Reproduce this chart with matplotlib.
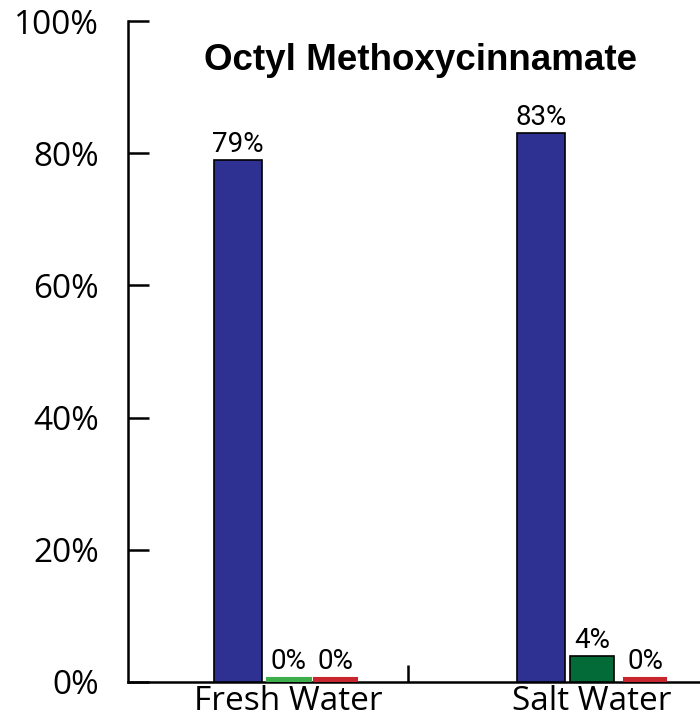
import numpy as np
import matplotlib.pyplot as plt

# data
categories = ["Fresh Water", "Salt Water"]
series_a = [79, 83]   # blue
series_b = [0, 4]     # green
series_c = [0, 0]     # red
labels_a = ["79%", "83%"]
labels_b = ["0%", "4%"]
labels_c = ["0%", "0%"]
yticks = [0, 20, 40, 60, 80, 100]

fig = plt.figure(figsize=(7, 7.18), dpi=100)
ax = fig.add_axes([128 / 700, 1 - 682 / 718, 1 - 128 / 700, (682 - 21) / 718])

x = np.arange(len(categories))


def draw(xpos, vals, labels, colors, edges, w):
    for xi, v, lab, c, e in zip(xpos, vals, labels, colors, edges):
        if v == 0:
            # zero bars still show as a thin coloured strip
            ax.bar(xi, 0.45, w, bottom=0.1, color=c, edgecolor=c, linewidth=1.5, zorder=3)
            top = 0.8
        else:
            ax.bar(xi, v, w, color=c, edgecolor=e, linewidth=1.2, zorder=3)
            top = v
        ax.text(xi, top + 0.3, lab, ha="center", va="bottom", fontsize=20,
                family="Roboto", zorder=4)


draw(x - 0.168, series_a, labels_a, ["#2E3192", "#2E3192"], ["black", "black"], 0.158)
draw(x + np.array([0.0, 0.0]), series_b, labels_b, ["#3DAE49", "#036B37"], ["#3DAE49", "black"], 0.145)
draw(x + np.array([0.155, 0.175]), series_c, labels_c, ["#C8262E", "#C8262E"], ["#C8262E", "#C8262E"], 0.14)

ax.set_xlim(-0.529, 1.356)
ax.set_ylim(0, 100)

ax.spines["top"].set_visible(False)
ax.spines["right"].set_visible(False)
ax.spines["left"].set_linewidth(1.8)
ax.spines["bottom"].set_linewidth(1.8)

ax.set_yticks(yticks)
ax.set_yticklabels([f"{t}%" for t in yticks], fontsize=24, family="Open Sans")
ax.tick_params(axis="y", direction="in", length=15, width=1.8, pad=21)

# category labels without ticks, one separator tick between groups
ax.set_xticks(x)
ax.set_xticklabels(categories, fontsize=24, family="Open Sans")
ax.tick_params(axis="x", length=0, pad=2)
ax.set_xticks([0.394], minor=True)
ax.tick_params(axis="x", which="minor", direction="in", length=12, width=1.8)

fig.text(0.6, 1 - 61 / 718, "Octyl Methoxycinnamate", ha="center", va="center",
         fontsize=26.5, fontweight="bold", family="Liberation Sans")

fig.savefig("out.png", dpi=100)
